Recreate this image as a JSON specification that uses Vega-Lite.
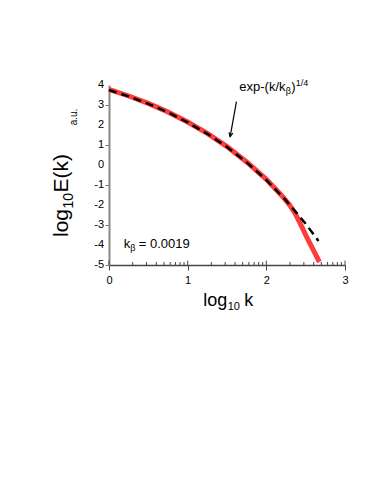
{
  "$schema": "https://vega.github.io/schema/vega-lite/v6.json",
  "width": 236,
  "height": 180,
  "autosize": {"type": "none"},
  "padding": {"left": 109, "top": 85, "right": 29, "bottom": 223},
  "background": "white",
  "config": {
    "view": {"stroke": null},
    "font": "Liberation Sans",
    "axis": {"labelFont": "Liberation Sans", "titleFont": "Liberation Sans", "labelColor": "black", "titleColor": "black", "grid": false, "titleFontWeight": "normal", "labelOverlap": false, "labelFlush": false}
  },
  "datasets": {
    "measured": [
      {"logk": 0.0, "logE": 3.78},
      {"logk": 0.25, "logE": 3.45},
      {"logk": 0.5, "logE": 3.08},
      {"logk": 0.75, "logE": 2.65},
      {"logk": 1.0, "logE": 2.15},
      {"logk": 1.25, "logE": 1.58},
      {"logk": 1.5, "logE": 0.92},
      {"logk": 1.75, "logE": 0.15},
      {"logk": 2.0, "logE": -0.72},
      {"logk": 2.2, "logE": -1.55},
      {"logk": 2.3, "logE": -2.02},
      {"logk": 2.37, "logE": -2.45},
      {"logk": 2.45, "logE": -3.08},
      {"logk": 2.52, "logE": -3.66},
      {"logk": 2.6, "logE": -4.27},
      {"logk": 2.675, "logE": -4.85}
    ],
    "fit": [
      {"logk": 0.0, "logE": 3.75},
      {"logk": 0.25, "logE": 3.43},
      {"logk": 0.5, "logE": 3.06},
      {"logk": 0.75, "logE": 2.63},
      {"logk": 1.0, "logE": 2.13},
      {"logk": 1.25, "logE": 1.56},
      {"logk": 1.5, "logE": 0.9},
      {"logk": 1.75, "logE": 0.13},
      {"logk": 2.0, "logE": -0.75},
      {"logk": 2.25, "logE": -1.77},
      {"logk": 2.5, "logE": -2.94},
      {"logk": 2.663, "logE": -3.8}
    ],
    "minor": [
      {"logk": 0.301}, {"logk": 0.477}, {"logk": 0.602}, {"logk": 0.699}, {"logk": 0.778}, {"logk": 0.845}, {"logk": 0.903}, {"logk": 0.954},
      {"logk": 1.301}, {"logk": 1.477}, {"logk": 1.602}, {"logk": 1.699}, {"logk": 1.778}, {"logk": 1.845}, {"logk": 1.903}, {"logk": 1.954},
      {"logk": 2.301}, {"logk": 2.477}, {"logk": 2.602}, {"logk": 2.699}, {"logk": 2.778}, {"logk": 2.845}, {"logk": 2.903}, {"logk": 2.954}
    ],
    "ylabels": [
      {"v": -5, "t": "-5"}, {"v": -4, "t": "-4"}, {"v": -3, "t": "-3"}, {"v": -2, "t": "-2"}, {"v": -1, "t": "-1"},
      {"v": 0, "t": "0"}, {"v": 1, "t": "1"}, {"v": 2, "t": "2"}, {"v": 3, "t": "3"}, {"v": 4, "t": "4"}
    ],
    "arrow": [
      {"x": 1.62, "y": 3.17, "x2": 1.54, "y2": 1.42}
    ],
    "label1": [{"x": 1.656, "y": 3.7}],
    "label2": [{"x": 0.187, "y": -4.13}],
    "xtitle": [{"x": 1.197, "y": -7.03}],
    "ytitle": [{"x": -0.526, "y": -3.6}],
    "units": [{"x": -0.44, "y": 2.4}]
  },
  "layer": [
    {
      "data": {"name": "measured"},
      "mark": {"type": "line", "color": "#ff3c3c", "strokeWidth": 5, "strokeCap": "butt", "clip": false},
      "encoding": {
        "x": {
          "field": "logk", "type": "quantitative",
          "scale": {"domain": [0, 3], "nice": false, "zero": false},
          "axis": {
            "title": null,
            "values": [0, 1, 2, 3],
            "format": "d",
            "labelFontSize": 11,
            "labelPadding": 4,
            "labelOverlap": false,
            "tickSize": 5,
            "tickColor": "#444",
            "tickWidth": 1,
            "domainColor": "#444",
            "domainWidth": 1.5
          }
        },
        "y": {
          "field": "logE", "type": "quantitative",
          "scale": {"domain": [-5, 4], "nice": false, "zero": false},
          "axis": {
            "title": null,
            "values": [-5, -4, -3, -2, -1, 0, 1, 2, 3, 4],
            "labels": false,
            "tickSize": 4,
            "tickColor": "#777",
            "domainColor": "#888",
            "domainWidth": 2
          }
        }
      }
    },
    {
      "data": {"name": "ylabels"},
      "mark": {"type": "text", "align": "right", "baseline": "middle", "fontSize": 11, "dx": -5, "color": "black", "clip": false},
      "encoding": {
        "x": {"datum": 0},
        "y": {"field": "v", "type": "quantitative"},
        "text": {"field": "t"}
      }
    },
    {
      "data": {"name": "minor"},
      "mark": {"type": "rule", "color": "#444", "strokeWidth": 1},
      "encoding": {
        "x": {"field": "logk", "type": "quantitative"},
        "y": {"datum": -5},
        "y2": {"datum": -4.85}
      }
    },
    {
      "data": {"values": [{"logk": 0}, {"logk": 1}, {"logk": 2}, {"logk": 3}]},
      "mark": {"type": "rule", "color": "#444", "strokeWidth": 1},
      "encoding": {
        "x": {"field": "logk", "type": "quantitative"},
        "y": {"datum": -5},
        "y2": {"datum": -4.78}
      }
    },
    {
      "data": {"name": "fit"},
      "mark": {"type": "line", "color": "black", "strokeWidth": 2.5, "strokeDash": [8, 5], "clip": false},
      "encoding": {
        "x": {"field": "logk", "type": "quantitative"},
        "y": {"field": "logE", "type": "quantitative"}
      }
    },
    {
      "data": {"name": "arrow"},
      "mark": {"type": "rule", "color": "black", "strokeWidth": 1.2},
      "encoding": {
        "x": {"field": "x", "type": "quantitative"},
        "y": {"field": "y", "type": "quantitative"},
        "x2": {"field": "x2"},
        "y2": {"field": "y2"}
      }
    },
    {
      "data": {"name": "arrow"},
      "mark": {"type": "point", "shape": "M -0.5 -1 L 0 0 L 0.5 -1", "filled": false, "stroke": "black", "strokeWidth": 1.2, "size": 60, "angle": 11, "opacity": 1},
      "encoding": {
        "x": {"field": "x2", "type": "quantitative"},
        "y": {"field": "y2", "type": "quantitative"}
      }
    },
    {
      "data": {"name": "label1"},
      "mark": {"type": "text", "text": "exp-(k/k", "align": "left", "baseline": "alphabetic", "fontSize": 13, "color": "black"},
      "encoding": {"x": {"field": "x", "type": "quantitative"}, "y": {"field": "y", "type": "quantitative"}}
    },
    {
      "data": {"name": "label1"},
      "mark": {"type": "text", "text": "β", "align": "left", "baseline": "alphabetic", "fontSize": 9, "dx": 46.5, "dy": 3, "color": "black"},
      "encoding": {"x": {"field": "x", "type": "quantitative"}, "y": {"field": "y", "type": "quantitative"}}
    },
    {
      "data": {"name": "label1"},
      "mark": {"type": "text", "text": ")", "align": "left", "baseline": "alphabetic", "fontSize": 13, "dx": 52, "color": "black"},
      "encoding": {"x": {"field": "x", "type": "quantitative"}, "y": {"field": "y", "type": "quantitative"}}
    },
    {
      "data": {"name": "label1"},
      "mark": {"type": "text", "text": "1/4", "align": "left", "baseline": "alphabetic", "fontSize": 9, "dx": 56.5, "dy": -5, "color": "black"},
      "encoding": {"x": {"field": "x", "type": "quantitative"}, "y": {"field": "y", "type": "quantitative"}}
    },
    {
      "data": {"name": "label2"},
      "mark": {"type": "text", "text": "k", "align": "left", "baseline": "alphabetic", "fontSize": 13, "color": "black"},
      "encoding": {"x": {"field": "x", "type": "quantitative"}, "y": {"field": "y", "type": "quantitative"}}
    },
    {
      "data": {"name": "label2"},
      "mark": {"type": "text", "text": "β", "align": "left", "baseline": "alphabetic", "fontSize": 9, "dx": 6.5, "dy": 3, "color": "black"},
      "encoding": {"x": {"field": "x", "type": "quantitative"}, "y": {"field": "y", "type": "quantitative"}}
    },
    {
      "data": {"name": "label2"},
      "mark": {"type": "text", "text": "= 0.0019", "align": "left", "baseline": "alphabetic", "fontSize": 13, "dx": 15, "color": "black"},
      "encoding": {"x": {"field": "x", "type": "quantitative"}, "y": {"field": "y", "type": "quantitative"}}
    },
    {
      "data": {"name": "xtitle"},
      "mark": {"type": "text", "text": "log", "align": "left", "baseline": "alphabetic", "fontSize": 18, "color": "black", "clip": false},
      "encoding": {"x": {"field": "x", "type": "quantitative"}, "y": {"field": "y", "type": "quantitative"}}
    },
    {
      "data": {"name": "xtitle"},
      "mark": {"type": "text", "text": "10", "align": "left", "baseline": "alphabetic", "fontSize": 11, "dx": 24.5, "dy": 4, "color": "black", "clip": false},
      "encoding": {"x": {"field": "x", "type": "quantitative"}, "y": {"field": "y", "type": "quantitative"}}
    },
    {
      "data": {"name": "xtitle"},
      "mark": {"type": "text", "text": "k", "align": "left", "baseline": "alphabetic", "fontSize": 18, "dx": 41, "color": "black", "clip": false},
      "encoding": {"x": {"field": "x", "type": "quantitative"}, "y": {"field": "y", "type": "quantitative"}}
    },
    {
      "data": {"name": "ytitle"},
      "mark": {"type": "text", "text": "log", "align": "left", "baseline": "alphabetic", "fontSize": 21, "angle": 270, "color": "black", "clip": false},
      "encoding": {"x": {"field": "x", "type": "quantitative"}, "y": {"field": "y", "type": "quantitative"}}
    },
    {
      "data": {"name": "ytitle"},
      "mark": {"type": "text", "text": "10", "align": "left", "baseline": "alphabetic", "fontSize": 14, "angle": 270, "dx": 28.5, "dy": 5, "color": "black", "clip": false},
      "encoding": {"x": {"field": "x", "type": "quantitative"}, "y": {"field": "y", "type": "quantitative"}}
    },
    {
      "data": {"name": "ytitle"},
      "mark": {"type": "text", "text": "E(k)", "align": "left", "baseline": "alphabetic", "fontSize": 21, "angle": 270, "dx": 44.5, "color": "black", "clip": false},
      "encoding": {"x": {"field": "x", "type": "quantitative"}, "y": {"field": "y", "type": "quantitative"}}
    },
    {
      "data": {"name": "units"},
      "mark": {"type": "text", "text": "a.u.", "align": "center", "baseline": "middle", "fontSize": 10, "angle": 270, "color": "black", "clip": false},
      "encoding": {"x": {"field": "x", "type": "quantitative"}, "y": {"field": "y", "type": "quantitative"}}
    }
  ]
}
